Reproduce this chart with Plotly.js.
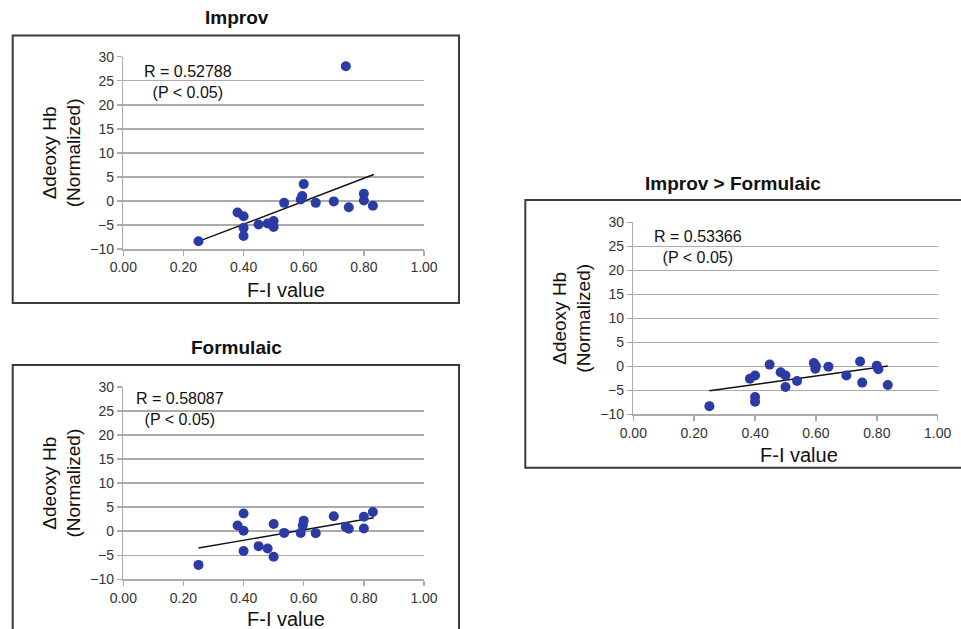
<!DOCTYPE html>
<html>
<head>
<meta charset="utf-8">
<script src="https://cdn.plot.ly/plotly-3.0.1.min.js"></script>
<style>html,body{margin:0;padding:0;background:#fff;}#chart{width:961px;height:629px;}</style>
</head>
<body>
<div id="chart"></div>
<script>
// ---- Data ----
const improvX = [0.25, 0.38, 0.40, 0.40, 0.40, 0.45, 0.48, 0.50, 0.50, 0.535, 0.60, 0.595, 0.59, 0.64, 0.70, 0.75, 0.74, 0.80, 0.80, 0.83];
const improvY = [-8.4, -2.4, -3.2, -5.6, -7.3, -4.9, -4.7, -4.2, -5.4, -0.4, 3.5, 1.0, 0.3, -0.4, -0.1, -1.3, 28.0, 1.5, 0.1, -1.0];
const improvFitX = [0.25, 0.833];
const improvFitY = [-8.4, 5.5];

const formX = [0.25, 0.40, 0.38, 0.40, 0.40, 0.45, 0.48, 0.50, 0.50, 0.535, 0.59, 0.597, 0.60, 0.64, 0.70, 0.74, 0.75, 0.80, 0.80, 0.83];
const formY = [-7.0, 3.7, 1.2, 0.1, -4.1, -3.1, -3.6, -5.3, 1.5, -0.35, -0.35, 1.25, 2.2, -0.4, 3.1, 0.9, 0.5, 0.55, 3.0, 4.0];
const formFitX = [0.25, 0.833];
const formFitY = [-3.5, 2.8];

const diffX = [0.25, 0.383, 0.40, 0.40, 0.40, 0.448, 0.484, 0.50, 0.50, 0.538, 0.593, 0.60, 0.598, 0.641, 0.70, 0.745, 0.752, 0.80, 0.805, 0.836];
const diffY = [-8.3, -2.6, -1.9, -6.4, -7.4, 0.35, -1.25, -1.9, -4.3, -3.05, 0.7, 0.07, -0.5, -0.07, -1.9, 1.0, -3.4, 0.14, -0.6, -3.9];
const diffFitX = [0.25, 0.836];
const diffFitY = [-5.1, 0.07];

const panelTitles = ["Improv", "Formulaic", "Improv &gt; Formulaic"];
const statTexts = ["R = 0.52788<br>(P &lt; 0.05)", "R = 0.58087<br>(P &lt; 0.05)", "R = 0.53366<br>(P &lt; 0.05)"];
const xTickVals = [0, 0.2, 0.4, 0.6, 0.8, 1.0];
const xTickText = ["0.00", "0.20", "0.40", "0.60", "0.80", "1.00"];
const yTickVals = [-10, -5, 0, 5, 10, 15, 20, 25, 30];
const xTitle = "F-I value";
const yTitle = "Δdeoxy Hb<br>(Normalized)";

// ---- Styling ----
const W = 961, H = 629;
const FONT = "Liberation Sans, Arial, sans-serif";
const dotColor = "#2B3BA6";
const gridColor = "#ABABAB";

function px(x) { return x / W; }
function py(y) { return 1 - y / H; }

const series = [
  {x: improvX, y: improvY, fx: improvFitX, fy: improvFitY},
  {x: formX, y: formY, fx: formFitX, fy: formFitY},
  {x: diffX, y: diffY, fx: diffFitX, fy: diffFitY}
];

// plot areas in pixels: [left, right, top, bottom]
const areas = [
  [123.3, 424.0, 56.7, 249.0],
  [123.3, 424.0, 387.0, 579.3],
  [633.3, 937.7, 222.3, 414.3]
];
// outer boxes in pixels
const boxes = [
  [12.7, 459, 35.5, 303],
  [12.7, 459, 365, 680],
  [525.3, 1010, 200, 467.7]
];
const titlePos = [[236.5, 18], [236.5, 348], [733, 183]];
const xTitlePos = [[286, 290], [286, 619], [798.7, 455]];
const statPos = [[0.215, 0.871], [0.187, 0.885], [0.212, 0.870]];

const traces = [];
const layout = {
  width: W, height: H,
  margin: {l: 0, r: 0, t: 0, b: 0},
  paper_bgcolor: "#fff", plot_bgcolor: "#fff",
  showlegend: false,
  font: {family: FONT, color: "#222"},
  shapes: [], annotations: []
};

series.forEach((s, i) => {
  const n = i === 0 ? "" : String(i + 1);
  const xa = "x" + n, ya = "y" + n;
  traces.push({
    type: "scatter", mode: "lines", x: s.fx, y: s.fy,
    xaxis: xa, yaxis: ya, line: {color: "#111", width: 1.4}, hoverinfo: "skip"
  });
  traces.push({
    type: "scatter", mode: "markers", x: s.x, y: s.y,
    xaxis: xa, yaxis: ya, marker: {color: dotColor, size: 10}
  });
  const a = areas[i];
  layout["xaxis" + n] = {
    domain: [px(a[0]), px(a[1])], anchor: ya, range: [0, 1],
    tickvals: xTickVals, ticktext: xTickText,
    ticks: "outside", ticklen: 5, tickcolor: gridColor, tickwidth: 1.5,
    showgrid: false, zeroline: false,
    showline: true, linecolor: gridColor, linewidth: 1.5,
    tickfont: {family: FONT, size: 14, color: "#333"}
  };
  layout["yaxis" + n] = {
    domain: [py(a[3]), py(a[2])], anchor: xa, range: [-10, 30],
    tickvals: yTickVals,
    ticks: "outside", ticklen: 5, tickcolor: gridColor, tickwidth: 1.5,
    showgrid: true, gridcolor: gridColor, gridwidth: 1.5, zeroline: false,
    showline: true, linecolor: gridColor, linewidth: 1.5,
    tickfont: {family: FONT, size: 14, color: "#333"},
    title: {text: yTitle, font: {family: FONT, size: 19, color: "#111"}, standoff: 4}
  };
  const b = boxes[i];
  layout.shapes.push({
    type: "rect", xref: "paper", yref: "paper",
    x0: px(b[0]), x1: px(b[1]), y0: py(b[3]), y1: py(b[2]),
    line: {color: "#3a3a3a", width: 2}, fillcolor: "rgba(0,0,0,0)", layer: "below"
  });
  layout.annotations.push({
    xref: "paper", yref: "paper", x: px(titlePos[i][0]), y: py(titlePos[i][1]),
    xanchor: "center", yanchor: "middle", showarrow: false,
    text: "<b>" + panelTitles[i] + "</b>",
    font: {family: FONT, size: 19, color: "#111"}
  });
  layout.annotations.push({
    xref: "paper", yref: "paper", x: px(xTitlePos[i][0]), y: py(xTitlePos[i][1]),
    xanchor: "center", yanchor: "middle", showarrow: false,
    text: xTitle,
    font: {family: FONT, size: 20, color: "#111"}
  });
  layout.annotations.push({
    xref: xa + " domain", yref: ya + " domain", x: statPos[i][0], y: statPos[i][1],
    xanchor: "center", yanchor: "middle", align: "center", showarrow: false,
    text: statTexts[i],
    font: {family: FONT, size: 16, color: "#111"}
  });
});

Plotly.newPlot("chart", traces, layout, {staticPlot: true, displayModeBar: false});
</script>
</body>
</html>
